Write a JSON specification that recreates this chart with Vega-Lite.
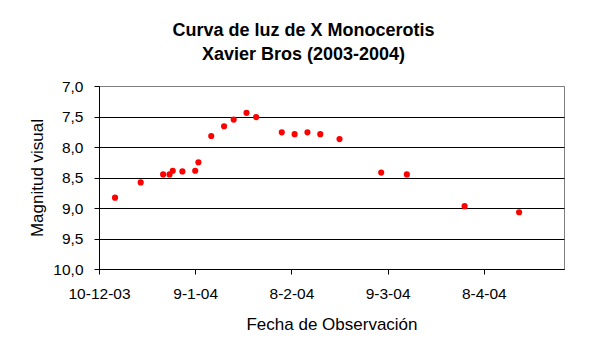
{
  "$schema": "https://vega.github.io/schema/vega-lite/v6.json",
  "width": 465,
  "height": 183,
  "autosize": {"type": "none"},
  "padding": {"left": 99, "top": 86, "right": 44, "bottom": 86},
  "background": "white",
  "title": {
    "text": ["Curva de luz de X Monocerotis", "Xavier Bros (2003-2004)"],
    "font": "Liberation Sans",
    "fontSize": 18,
    "fontWeight": "bold",
    "color": "black",
    "anchor": "middle",
    "frame": "group",
    "offset": 15,
    "lineHeight": 24,
    "dx": -28
  },
  "config": {
    "view": {"stroke": "#808080", "strokeWidth": 1},
    "axis": {
      "domainColor": "black",
      "tickColor": "black",
      "labelColor": "black",
      "titleColor": "black",
      "labelFont": "Liberation Sans",
      "labelFontSize": 15.5,
      "titleFont": "Liberation Sans",
      "titleFontSize": 17,
      "titleFontWeight": "normal",
      "gridColor": "black",
      "gridWidth": 1,
      "gridOpacity": 1,
      "tickSize": 5,
      "labelOverlap": false,
      "labelFlush": false
    }
  },
  "data": {
    "values": [
      {"fecha": "2003-12-15", "magnitud": 8.83},
      {"fecha": "2003-12-23", "magnitud": 8.58},
      {"fecha": "2003-12-30", "magnitud": 8.45},
      {"fecha": "2004-01-01", "magnitud": 8.45},
      {"fecha": "2004-01-02", "magnitud": 8.39},
      {"fecha": "2004-01-05", "magnitud": 8.40},
      {"fecha": "2004-01-09", "magnitud": 8.39},
      {"fecha": "2004-01-10", "magnitud": 8.25},
      {"fecha": "2004-01-14", "magnitud": 7.82},
      {"fecha": "2004-01-18", "magnitud": 7.66},
      {"fecha": "2004-01-21", "magnitud": 7.55},
      {"fecha": "2004-01-25", "magnitud": 7.44},
      {"fecha": "2004-01-28", "magnitud": 7.51},
      {"fecha": "2004-02-05", "magnitud": 7.76},
      {"fecha": "2004-02-09", "magnitud": 7.79},
      {"fecha": "2004-02-13", "magnitud": 7.76},
      {"fecha": "2004-02-17", "magnitud": 7.79},
      {"fecha": "2004-02-23", "magnitud": 7.87},
      {"fecha": "2004-03-07", "magnitud": 8.42},
      {"fecha": "2004-03-15", "magnitud": 8.45},
      {"fecha": "2004-04-02", "magnitud": 8.97},
      {"fecha": "2004-04-19", "magnitud": 9.07}
    ]
  },
  "mark": {"type": "circle", "color": "#ff0000", "size": 38, "opacity": 1},
  "encoding": {
    "x": {
      "field": "fecha",
      "type": "temporal",
      "scale": {
        "type": "utc",
        "domain": [
          {"year": 2003, "month": 12, "date": 10, "utc": true},
          {"year": 2004, "month": 5, "date": 3, "utc": true}
        ]
      },
      "axis": {
        "values": [
          {"year": 2003, "month": 12, "date": 10, "utc": true},
          {"year": 2004, "month": 1, "date": 9, "utc": true},
          {"year": 2004, "month": 2, "date": 8, "utc": true},
          {"year": 2004, "month": 3, "date": 9, "utc": true},
          {"year": 2004, "month": 4, "date": 8, "utc": true}
        ],
        "labelExpr": "utcFormat(datum.value, '%-d-%-m-%y')",
        "title": "Fecha de Observación",
        "grid": false,
        "labelPadding": 12,
        "titlePadding": 15
      }
    },
    "y": {
      "field": "magnitud",
      "type": "quantitative",
      "scale": {"domain": [7, 10], "reverse": true, "nice": false, "zero": false},
      "axis": {
        "values": [7, 7.5, 8, 8.5, 9, 9.5, 10],
        "labelExpr": "replace(format(datum.value, '.1f'), '.', ',')",
        "title": "Magnitud visual",
        "labelPadding": 11,
        "titlePadding": 6,
        "gridColor": {"condition": {"test": "datum.value == 7", "value": "#808080"}, "value": "black"}
      }
    }
  }
}
